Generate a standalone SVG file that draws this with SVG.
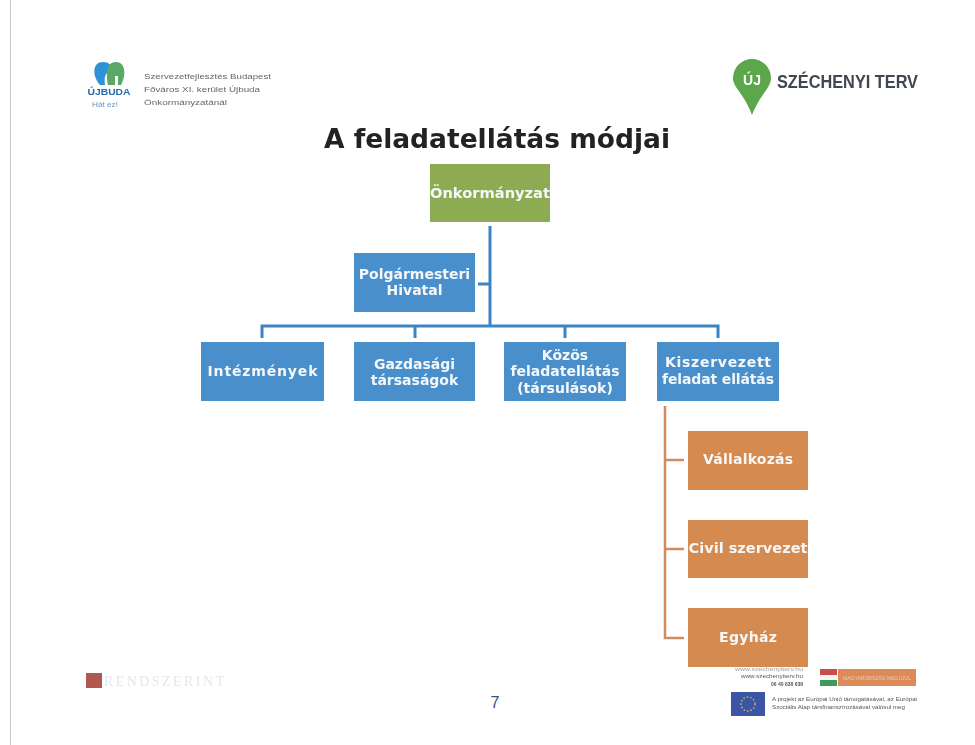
<svg xmlns="http://www.w3.org/2000/svg" width="975" height="745" viewBox="0 0 975 745">
<defs>
<filter id="blur" x="-5%" y="-20%" width="110%" height="140%"><feGaussianBlur stdDeviation="0.6"/></filter>
</defs>
<style>
text{font-family:"DejaVu Sans","Liberation Sans",sans-serif}
.lbl{font-size:14px;font-weight:700;fill:#f4f8fb;text-anchor:middle}
.green{fill:#8cab53}.blue{fill:#4a8fcb}.orange{fill:#d58a4f}
.cb{fill:none;stroke:#3d84c4;stroke-width:3}
.co{fill:none;stroke:#d08c5c;stroke-width:2.500}
.small{font-family:"Liberation Sans",sans-serif;font-size:8px;fill:#666}
.tiny{font-family:"Liberation Sans",sans-serif;font-size:5px;fill:#555}
</style>
<rect width="975" height="745" fill="#fff"/>
<path d="M10.500 0V745" stroke="#c9c9c9" stroke-width="1"/>
<g id="logo-ujbuda" filter="url(#blur)">
<path d="M100 85C92 76 92 62 103 62C110 62 112 66 111 71C105 72 104 78 105 85Z" fill="#2f93d6"/>
<path d="M108 85C106 74 106 62 116 62C125 62 127 74 121 85L118 85L118 76L115 76L115 85Z" fill="#5aa866"/>
<text x="109" y="95" text-anchor="middle" textLength="43" lengthAdjust="spacingAndGlyphs" style="font-family:'Liberation Sans',sans-serif;font-size:8.500px;font-weight:700;fill:#2d6aa8">ÚJBUDA</text>
<text x="105" y="107" text-anchor="middle" textLength="26" lengthAdjust="spacingAndGlyphs" style="font-family:'Liberation Sans',sans-serif;font-size:6.500px;fill:#6a93b8">Hát ez!</text>
<text class="small" x="144" y="79" textLength="127" lengthAdjust="spacingAndGlyphs">Szervezetfejlesztés Budapest</text>
<text class="small" x="144" y="92" textLength="116" lengthAdjust="spacingAndGlyphs">Főváros XI. kerület Újbuda</text>
<text class="small" x="144" y="105" textLength="83" lengthAdjust="spacingAndGlyphs">Önkormányzatánál</text>
</g>
<g id="logo-szechenyi" filter="url(#blur)">
<path d="M733 78A19 19 0 1 1 771 78C771 88 761 93 752 115C744 93 733 88 733 78Z" fill="#5ca64c"/>
<text x="752" y="85" text-anchor="middle" style="font-family:'Liberation Sans',sans-serif;font-size:14px;font-weight:700;fill:#fff">ÚJ</text>
<text x="777" y="88" style="font-family:'Liberation Sans',sans-serif;font-size:18.500px;font-weight:700;fill:#3f4650" textLength="141" lengthAdjust="spacingAndGlyphs">SZÉCHENYI TERV</text>
</g>
<text id="title" x="497" y="148" text-anchor="middle" filter="url(#blur)" style="font-size:26.500px;font-weight:700;fill:#222">A feladatellátás módjai</text>
<g id="connectors" filter="url(#blur)">
<path class="cb" d="M490 226V325M478 284H490M262 338V326H718V338M415 326V338M565 326V338"/>
<path class="co" d="M665 406V638H684M665 460H684M665 549H684"/>
</g>
<g filter="url(#blur)">
<g id="n-onkormanyzat"><rect class="green" x="430" y="164" width="120" height="58"/><text class="lbl" x="490" y="198" textLength="120" lengthAdjust="spacingAndGlyphs">Önkormányzat</text></g>
<g id="n-polgarmesteri"><rect class="blue" x="354" y="253" width="121" height="59"/><text class="lbl" x="414.500" y="279">Polgármesteri</text><text class="lbl" x="414.500" y="295">Hivatal</text></g>
<g id="n-intezmenyek"><rect class="blue" x="201" y="342" width="123" height="59"/><text class="lbl" x="262.500" y="376" textLength="110">Intézmények</text></g>
<g id="n-gazdasagi"><rect class="blue" x="354" y="342" width="121" height="59"/><text class="lbl" x="414.500" y="369">Gazdasági</text><text class="lbl" x="414.500" y="385">társaságok</text></g>
<g id="n-kozos"><rect class="blue" x="504" y="342" width="122" height="59"/><text class="lbl" x="565" y="360">Közös</text><text class="lbl" x="565" y="376">feladatellátás</text><text class="lbl" x="565" y="393">(társulások)</text></g>
<g id="n-kiszervezett"><rect class="blue" x="657" y="342" width="122" height="59"/><text class="lbl" x="718" y="367" textLength="106">Kiszervezett</text><text class="lbl" x="718" y="384" textLength="112">feladat ellátás</text></g>
<g id="n-vallalkozas"><rect class="orange" x="688" y="431" width="120" height="59"/><text class="lbl" x="748" y="464" textLength="90">Vállalkozás</text></g>
<g id="n-civil"><rect class="orange" x="688" y="520" width="120" height="58"/><text class="lbl" x="748" y="553" textLength="119" lengthAdjust="spacingAndGlyphs">Civil szervezet</text></g>
<g id="n-egyhaz"><rect class="orange" x="688" y="608" width="120" height="59"/><text class="lbl" x="748" y="642" textLength="58">Egyház</text></g>
</g>
<g id="footer-left" filter="url(#blur)">
<rect x="86" y="673" width="16" height="15" fill="#b0584f"/>
<text x="104" y="686" textLength="120" lengthAdjust="spacing" style="font-family:'Liberation Serif',serif;font-size:14px;fill:#e6e6ef">RENDSZERINT</text>
</g>
<text id="page" x="495" y="708" text-anchor="middle" style="font-family:'Liberation Sans',sans-serif;font-size:16px;fill:#3d4f7c">7</text>
<g id="footer-right" filter="url(#blur)">
<text class="tiny" x="803" y="671" text-anchor="end" textLength="68" lengthAdjust="spacingAndGlyphs" fill-opacity=".6">www.szechenyiterv.hu</text>
<text class="tiny" x="803" y="678" text-anchor="end" textLength="62" lengthAdjust="spacingAndGlyphs">www.szechenyiterv.hu</text>
<text class="tiny" x="803" y="686" text-anchor="end" textLength="32" lengthAdjust="spacingAndGlyphs" style="font-weight:700">06 40 638 638</text>
<rect x="820" y="669" width="17" height="6" fill="#c8504a"/>
<rect x="820" y="675" width="17" height="5" fill="#f4f4f0"/>
<rect x="820" y="680" width="17" height="6" fill="#3c9a5a"/>
<rect x="838" y="669" width="78" height="17" fill="#dc8a58"/>
<text x="877" y="680" text-anchor="middle" textLength="68" lengthAdjust="spacingAndGlyphs" style="font-family:'Liberation Sans',sans-serif;font-size:6px;fill:#f2cdb4">MAGYARORSZÁG MEGÚJUL</text>
<rect x="731" y="692" width="34" height="24" fill="#3a55a4"/>
<circle cx="748" cy="704" r="7" fill="none" stroke="#c9b95a" stroke-width="1.500" stroke-dasharray="1.500 2"/>
<text class="tiny" x="772" y="701" textLength="145" lengthAdjust="spacingAndGlyphs">A projekt az Európai Unió támogatásával, az Európai</text>
<text class="tiny" x="772" y="709" textLength="133" lengthAdjust="spacingAndGlyphs">Szociális Alap társfinanszírozásával valósul meg</text>
</g>
</svg>
